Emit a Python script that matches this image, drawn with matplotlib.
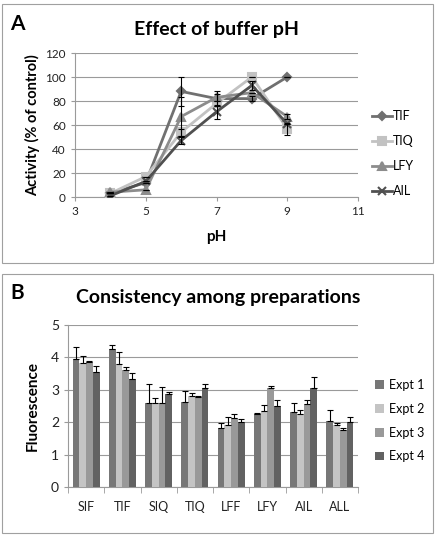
import numpy as np
import matplotlib.pyplot as plt
from matplotlib.patches import Rectangle

plt.rcParams['font.family'] = ['Lato', 'DejaVu Sans']

# Panel A data: activity vs pH
ph = [4, 5, 6, 7, 8, 9]
tif = [3, 12, 88, 82, 82, 100]
tiq = [3, 17, 54, 78, 100, 57]
lfy = [4, 6, 67, 83, 87, 67]
ail = [1, 13, 47, 71, 93, 61]
tif_err = [0, 0, 12, 6, 2, 0]
tiq_err = [0, 0, 3, 2, 0, 5]
lfy_err = [0, 0, 16, 3, 0, 2]
ail_err = [0, 0, 3, 6, 4, 0]

# Panel B data: fluorescence per preparation
preps = ['SIF', 'TIF', 'SIQ', 'TIQ', 'LFF', 'LFY', 'AIL', 'ALL']
expt1 = [3.95, 4.27, 2.60, 2.62, 1.82, 2.25, 2.30, 2.05]
expt2 = [3.82, 3.80, 2.60, 2.80, 1.92, 2.35, 2.25, 1.90]
expt3 = [3.87, 3.60, 2.58, 2.78, 2.13, 3.05, 2.55, 1.75]
expt4 = [3.55, 3.33, 2.88, 3.07, 2.02, 2.50, 3.05, 2.02]
expt1_err = [0.37, 0.11, 0.58, 0.35, 0.16, 0.02, 0.30, 0.33]
expt2_err = [0.23, 0.37, 0.16, 0.10, 0.25, 0.18, 0.13, 0.08]
expt3_err = [0.01, 0.10, 0.52, 0.04, 0.12, 0.07, 0.13, 0.08]
expt4_err = [0.20, 0.20, 0.05, 0.10, 0.08, 0.18, 0.35, 0.15]

fig = plt.figure(figsize=(4.37, 5.35), dpi=100)

# panel borders
fig.patches.append(Rectangle((2 / 437, 1 - 263 / 535), 431 / 437, 259 / 535,
                             transform=fig.transFigure, fill=False, ec='#a0a0a0', lw=0.8))
fig.patches.append(Rectangle((2 / 437, 1 - 533 / 535), 431 / 437, 259 / 535,
                             transform=fig.transFigure, fill=False, ec='#a0a0a0', lw=0.8))

grid_c = '#9a9a9a'

# ---- Panel A ----
ax = fig.add_axes([75 / 437, 1 - 197 / 535, 283 / 437, 144 / 535])
series = [
    ('TIF', tif, tif_err, '#707070', 'D', 4),
    ('TIQ', tiq, tiq_err, '#c2c2c2', 's', 6),
    ('LFY', lfy, lfy_err, '#8c8c8c', '^', 6),
    ('AIL', ail, ail_err, '#505050', 'x', 6),
]
for name, vals, err, c, m, ms in series:
    ax.plot(ph, vals, color=c, marker=m, ms=ms, lw=2, mew=1.5, label=name, zorder=3)
    ax.errorbar(ph, vals, yerr=err, fmt='none', ecolor='black', elinewidth=0.8,
                capsize=2, capthick=0.8, zorder=4)
ax.set_xlim(3, 11)
ax.set_ylim(0, 120)
ax.set_xticks([3, 5, 7, 9, 11])
ax.set_yticks(range(0, 121, 20))
ax.yaxis.grid(True, color=grid_c, lw=0.8)
ax.set_axisbelow(True)
for s in ['top', 'right']:
    ax.spines[s].set_visible(False)
for s in ['left', 'bottom']:
    ax.spines[s].set_color(grid_c)
ax.tick_params(colors=grid_c, labelcolor='#222222', labelsize=8.5, length=3)
ax.set_xlabel('pH', fontsize=11, fontweight='bold', labelpad=9)
ax.set_ylabel('Activity (% of control)', fontsize=10.5, fontweight='bold')
ax.legend(loc='center left', bbox_to_anchor=(1.01, 0.30), frameon=False,
          fontsize=9, handlelength=1.6, handletextpad=0.1, labelspacing=1.05)
fig.text(217 / 437, 1 - 30 / 535, 'Effect of buffer pH', ha='center', va='center',
         fontsize=14, fontweight='bold')
fig.text(10 / 437, 1 - 24 / 535, 'A', ha='left', va='center', fontsize=15, fontweight='bold')

# ---- Panel B ----
bx = fig.add_axes([68 / 437, 1 - 487 / 535, 290 / 437, 162 / 535])
x = np.arange(len(preps))
w = 0.185
bars = [
    ('Expt 1', expt1, expt1_err, '#777777'),
    ('Expt 2', expt2, expt2_err, '#c4c4c4'),
    ('Expt 3', expt3, expt3_err, '#999999'),
    ('Expt 4', expt4, expt4_err, '#626262'),
]
for i, (name, vals, err, c) in enumerate(bars):
    pos = x + (i - 1.5) * w
    bx.bar(pos, vals, width=w, color=c, label=name, zorder=3)
    bx.errorbar(pos, vals, yerr=[np.zeros(len(err)), err], fmt='none', ecolor='black',
                elinewidth=0.8, capsize=2, capthick=0.8, zorder=4)
bx.set_xlim(-0.5, len(preps) - 0.5)
bx.set_ylim(0, 5)
bx.set_yticks(range(0, 6))
bx.set_xticks(x)
bx.set_xticklabels(preps)
bx.set_xticks(np.arange(-0.5, len(preps)), minor=True)
bx.tick_params(axis='x', which='major', length=0, pad=10)
bx.tick_params(axis='x', which='minor', length=4, color=grid_c)
bx.yaxis.grid(True, color=grid_c, lw=0.8)
bx.set_axisbelow(True)
for s in ['top', 'right']:
    bx.spines[s].set_visible(False)
for s in ['left', 'bottom']:
    bx.spines[s].set_color(grid_c)
bx.tick_params(axis='y', colors=grid_c, labelcolor='#222222', labelsize=10, length=3)
bx.tick_params(axis='x', labelcolor='#222222', labelsize=9)
bx.set_ylabel('Fluorescence', fontsize=11, fontweight='bold', labelpad=8)
bx.legend(loc='center left', bbox_to_anchor=(1.02, 0.41), frameon=False, fontsize=9,
          handlelength=0.7, handleheight=0.7, handletextpad=0.4, labelspacing=0.95)
fig.text(218 / 437, 1 - 298 / 535, 'Consistency among preparations', ha='center',
         va='center', fontsize=14, fontweight='bold')
fig.text(10 / 437, 1 - 293 / 535, 'B', ha='left', va='center', fontsize=15, fontweight='bold')

fig.savefig('out.png', dpi=100)
